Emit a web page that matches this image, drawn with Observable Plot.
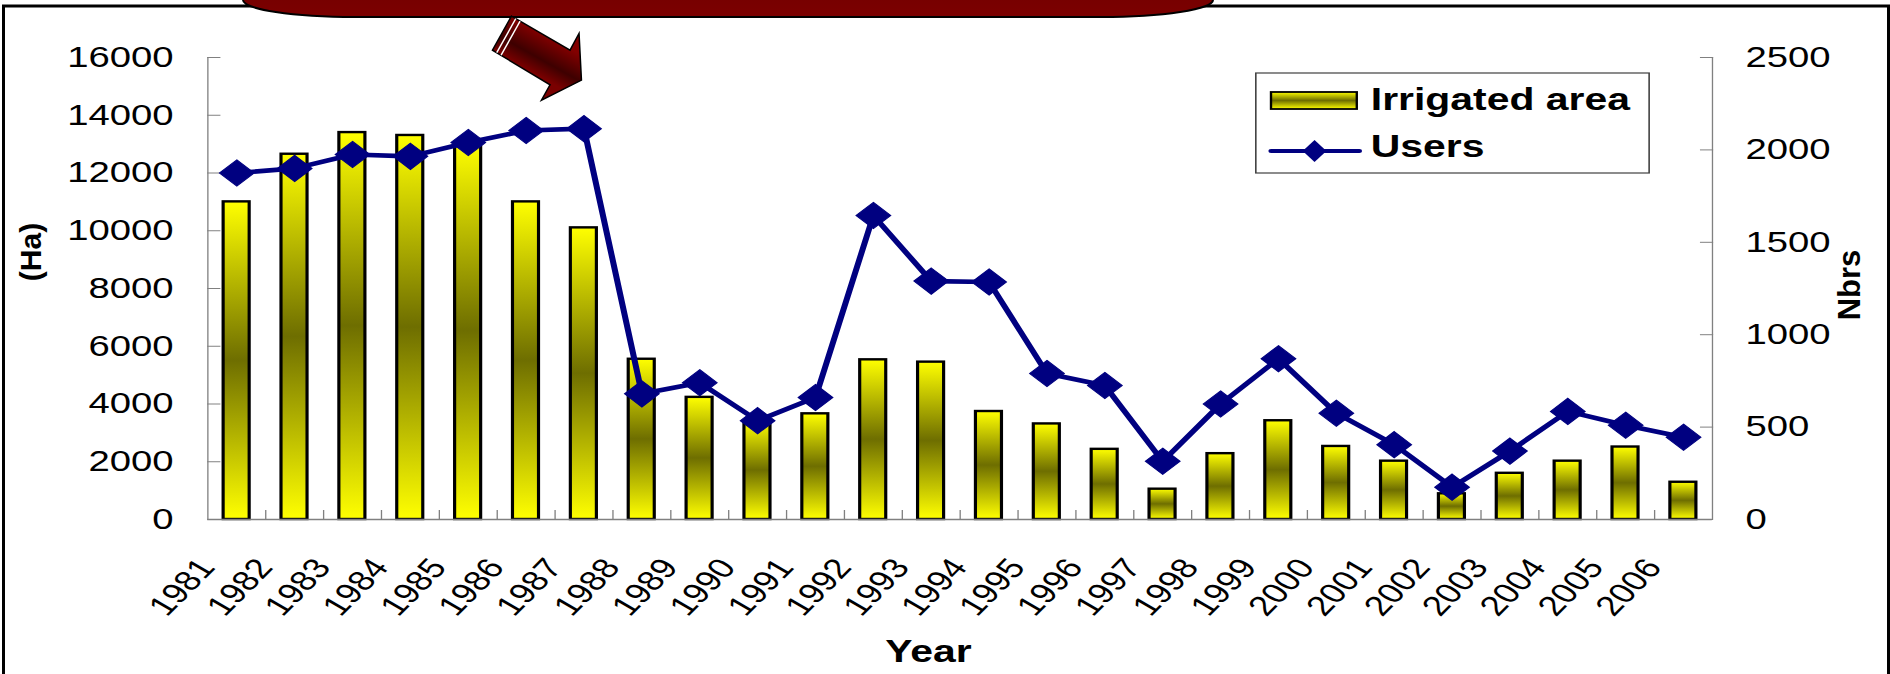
<!DOCTYPE html>
<html>
<head>
<meta charset="utf-8">
<title>Irrigated area and users, 1981–2006</title>
<script src="https://cdn.jsdelivr.net/npm/d3@7"></script>
<script src="https://cdn.jsdelivr.net/npm/@observablehq/plot@0.6"></script>
<style>
  html, body { margin: 0; padding: 0; background: #fff; }
  #chart { position: relative; width: 1890px; height: 674px; overflow: hidden; background: #fff; }
  #chart > svg { position: absolute; left: 0; top: 0; }
</style>
</head>
<body>
<div id="chart"></div>
<script>
// ---- data ----------------------------------------------------------------
const years = [1981, 1982, 1983, 1984, 1985, 1986, 1987, 1988, 1989, 1990, 1991, 1992, 1993,
               1994, 1995, 1996, 1997, 1998, 1999, 2000, 2001, 2002, 2003, 2004, 2005, 2006];
// irrigated area (ha)
const irrigatedArea = [11000, 12650, 13400, 13300, 13050, 11000, 10100, 5550, 4230, 3400, 3660, 5530, 5450,
                       3740, 3310, 2430, 1050, 2280, 3420, 2530, 2020, 890, 1600, 2020, 2510, 1290];
// number of users
const users = [1875, 1900, 1975, 1965, 2040, 2105, 2115, 680, 740, 535, 660, 1645, 1290,
               1285, 790, 725, 315, 625, 870, 575, 405, 175, 370, 585, 510, 445];
const areaTicks = [0, 2000, 4000, 6000, 8000, 10000, 12000, 14000, 16000];
const userTicks = [0, 500, 1000, 1500, 2000, 2500];
const seriesNames = ["Irrigated area", "Users"];

// ---- layout ----------------------------------------------------------------
const FONT = "'Liberation Sans', Arial, Helvetica, sans-serif";
const FULL_W = 1890, H = 674;
const SX = 1.32;                         // horizontal stretch of the drawing
const W = Math.round(FULL_W / SX);
const marginLeft = 157, marginRight = W - 1297, marginTop = 57, marginBottom = 155;
const step = (W - marginLeft - marginRight) / years.length;
const half = step / 2;
const innerH = H - marginTop - marginBottom;

// users are drawn against the right-hand axis, mapped onto the area scale
const USER_RATIO = areaTicks[areaTicks.length - 1] / userTicks[userTicks.length - 1];

const rows = years.map((year, i) => ({year, area: irrigatedArea[i], users: users[i]}));

const NAVY = "#000080", AXIS = "#808080";

const chart = Plot.plot({
  width: W, height: H,
  marginLeft, marginRight, marginTop, marginBottom,
  style: {fontFamily: FONT, background: "transparent", color: "black", overflow: "visible"},
  x: {domain: years, paddingInner: 0.55, paddingOuter: 0.275, round: false, axis: null, label: null},
  y: {domain: [0, areaTicks[areaTicks.length - 1]], axis: null, label: null},
  marks: [
    Plot.barY(rows, {x: "year", y: "area", fill: "url(#bar-gradient)", stroke: "black", strokeWidth: 2.4}),
    // axis lines and inward tick marks
    Plot.ruleY([0], {stroke: AXIS, strokeWidth: 1.3}),
    Plot.ruleX([years[0]], {dx: -half, stroke: AXIS, strokeWidth: 1}),
    Plot.ruleX([years[years.length - 1]], {dx: half, stroke: AXIS, strokeWidth: 1}),
    Plot.tickX(years.slice(1), {x: d => d, dx: -half, insetTop: innerH - 9, stroke: AXIS}),
    Plot.axisY(areaTicks, {anchor: "left", tickSize: -10, tickPadding: 36, stroke: AXIS,
      fontSize: 29, tickFormat: d => String(d), label: null}),
    Plot.axisY(userTicks.map(u => u * USER_RATIO), {anchor: "right", tickSize: -10, tickPadding: 35, stroke: AXIS,
      fontSize: 29, tickFormat: d => String(Math.round(d / USER_RATIO)), label: null}),
    // slanted year labels
    Plot.text(years, {x: d => d, text: d => String(d), frameAnchor: "bottom", rotate: -52.85,
      textAnchor: "end", lineAnchor: "middle", dx: -22.6, dy: 43, fontSize: 28}),
    Plot.text(["Year"], {text: d => d, frameAnchor: "bottom", dx: -24, dy: 133, lineAnchor: "middle",
      fontSize: 31, fontWeight: "bold"}),
    // users series
    Plot.line(rows, {x: "year", y: d => d.users * USER_RATIO, stroke: NAVY, strokeWidth: 4.6}),
    Plot.dot(rows, {x: "year", y: d => d.users * USER_RATIO, symbol: "diamond2", r: 11.8,
      fill: NAVY, stroke: NAVY, strokeWidth: 1})
  ]
});

// stretch the drawing to the full page width
chart.setAttribute("width", FULL_W);
chart.setAttribute("height", H);
chart.setAttribute("viewBox", `0 0 ${W} ${H}`);
chart.setAttribute("preserveAspectRatio", "none");
chart.style.width = FULL_W + "px";
chart.style.height = H + "px";
chart.style.maxWidth = "none";

const svg = d3.select(chart);
const defs = svg.insert("defs", ":first-child");
const grad = defs.append("linearGradient").attr("id", "bar-gradient")
  .attr("x1", 0).attr("y1", 0).attr("x2", 0).attr("y2", 1);
grad.append("stop").attr("offset", "0%").attr("stop-color", "#ffff00");
grad.append("stop").attr("offset", "50%").attr("stop-color", "#6e6e00");
grad.append("stop").attr("offset", "100%").attr("stop-color", "#ffff00");

// legend box
const lg = svg.append("g").attr("font-family", FONT).attr("font-weight", "bold")
  .attr("font-size", 31).attr("text-anchor", "start");
lg.append("rect").attr("x", 951.5).attr("y", 73).attr("width", 298).attr("height", 100)
  .attr("fill", "white").attr("stroke", "#404040").attr("stroke-width", 1.2);
lg.append("rect").attr("x", 963).attr("y", 92).attr("width", 65).attr("height", 17)
  .attr("fill", "url(#bar-gradient)").attr("stroke", "black").attr("stroke-width", 1.8);
lg.append("text").attr("x", 1038.6).attr("y", 110).text(seriesNames[0]);
lg.append("line").attr("x1", 963).attr("x2", 1030).attr("y1", 151).attr("y2", 151)
  .attr("stroke", NAVY).attr("stroke-width", 4).attr("stroke-linecap", "round");
lg.append("path").attr("d", "M996,140 l9,11 l-9,11 l-9,-11 z").attr("fill", NAVY);
lg.append("text").attr("x", 1038.6).attr("y", 157).text(seriesNames[1]);

document.getElementById("chart").appendChild(chart);

// ---- unstretched overlay: frame, banner, arrow, vertical axis titles ----------
const ov = d3.select("#chart").append("svg")
  .attr("width", FULL_W).attr("height", H)
  .style("overflow", "hidden").style("pointer-events", "none");

ov.append("rect").attr("x", 3.5).attr("y", 6).attr("width", 1885).attr("height", 800)
  .attr("fill", "none").attr("stroke", "black").attr("stroke-width", 3);

const ovDefs = ov.append("defs");
const bannerGrad = ovDefs.append("linearGradient").attr("id", "banner-gradient")
  .attr("x1", 0).attr("y1", 0).attr("x2", 0).attr("y2", 1);
bannerGrad.append("stop").attr("offset", "0%").attr("stop-color", "#6c0000");
bannerGrad.append("stop").attr("offset", "100%").attr("stop-color", "#7c0000");

ov.append("rect").attr("x", 243).attr("y", -40).attr("width", 970).attr("height", 57)
  .attr("rx", 112).attr("ry", 17)
  .attr("fill", "url(#banner-gradient)").attr("stroke", "black").attr("stroke-width", 2);

// arrow pointing at the users peak
const xs = chart.scale("x"), ys = chart.scale("y");
const peak = rows.reduce((a, b) => (b.users > a.users ? b : a));
const tipX = (xs.apply(peak.year) + xs.bandwidth / 2) * SX - 2;
const tipY = ys.apply(peak.users * USER_RATIO) - 48;
const rel = ([dx, dy]) => [tipX + dx, tipY + dy];
const A = rel([-70, -64]), B = rel([-11.4, -30]), C = rel([-2.4, -46.7]), D = rel([0, 0]),
      E = rel([-40, 20]), F = rel([-31.4, 4.7]), G = rel([-89, -30]);
const arrowGrad = ovDefs.append("linearGradient").attr("id", "arrow-gradient")
  .attr("gradientUnits", "userSpaceOnUse")
  .attr("x1", A[0]).attr("y1", A[1]).attr("x2", G[0]).attr("y2", G[1]);
arrowGrad.append("stop").attr("offset", "0%").attr("stop-color", "#820000");
arrowGrad.append("stop").attr("offset", "60%").attr("stop-color", "#3e0000");
arrowGrad.append("stop").attr("offset", "100%").attr("stop-color", "#7a0000");
ov.append("path")
  .attr("d", "M" + [A, B, C, D, E, F, G].map(p => p.join(",")).join("L") + "Z")
  .attr("fill", "url(#arrow-gradient)").attr("stroke", "black").attr("stroke-width", 1.5)
  .attr("stroke-linejoin", "miter");
const u = [0.865, 0.502];
for (const t of [5, 10]) {
  ov.append("line")
    .attr("x1", G[0] + t * u[0]).attr("y1", G[1] + t * u[1])
    .attr("x2", A[0] + t * u[0]).attr("y2", A[1] + t * u[1])
    .attr("stroke", "white").attr("stroke-width", 1.4);
}

// vertical axis titles
ov.append("text").attr("transform", "translate(41,252) rotate(-90)")
  .attr("text-anchor", "middle").attr("font-family", FONT).attr("font-weight", "bold")
  .attr("font-size", 30).text("(Ha)");
ov.append("text").attr("transform", "translate(1860,285) rotate(-90)")
  .attr("text-anchor", "middle").attr("font-family", FONT).attr("font-weight", "bold")
  .attr("font-size", 31).text("Nbrs");
</script>
</body>
</html>
